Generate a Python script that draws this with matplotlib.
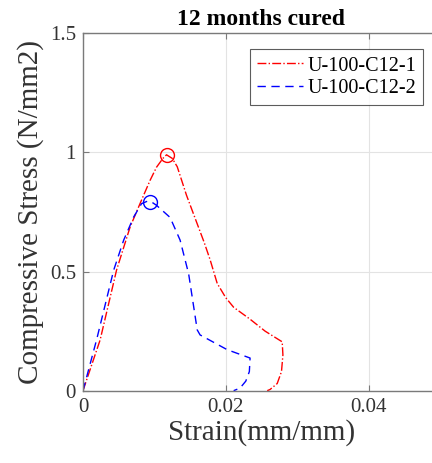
import matplotlib
matplotlib.use("Agg")
import matplotlib.pyplot as plt

# Stress-strain curves, 12 months cured specimens
strain_1 = [0.0, 0.0024, 0.0047, 0.0066, 0.0082, 0.0094, 0.0103, 0.0112, 0.0117,
            0.0125, 0.0132, 0.0145, 0.0155, 0.0170, 0.0178, 0.0188, 0.0200, 0.0211,
            0.0234, 0.0255, 0.0279, 0.0280, 0.0278, 0.0272, 0.0262, 0.0258]
stress_1 = [0.0, 0.213, 0.506, 0.687, 0.80, 0.883, 0.938, 0.975, 0.99,
            0.975, 0.94, 0.82, 0.74, 0.62, 0.55, 0.45, 0.39, 0.35,
            0.30, 0.25, 0.205, 0.15, 0.08, 0.03, 0.005, 0.0]

strain_2 = [0.0, 0.0019, 0.0043, 0.0057, 0.0071, 0.0082, 0.0090, 0.0096, 0.0103,
            0.0122, 0.0136, 0.0148, 0.0160, 0.0164, 0.0202, 0.0234, 0.0233, 0.0228,
            0.0220, 0.0211]
stress_2 = [0.0, 0.213, 0.506, 0.632, 0.729, 0.785, 0.795, 0.792, 0.778,
            0.727, 0.632, 0.49, 0.255, 0.234, 0.172, 0.137, 0.08, 0.04,
            0.011, 0.0]

peak_1 = (0.0117, 0.99)
peak_2 = (0.0094, 0.79)

labels = ["U-100-C12-1", "U-100-C12-2"]
x_ticks = [0, 0.02, 0.04]
x_tick_labels = ["0", "0.02", "0.04"]
y_ticks = [0, 0.5, 1, 1.5]
y_tick_labels = ["0", "0.5", "1", "1.5"]

plt.rcParams["font.family"] = ["Liberation Serif", "DejaVu Serif"]

fig = plt.figure(figsize=(4.32, 4.63), dpi=100)
ax = fig.add_axes([0.1921, 0.1562, 0.8264, 0.7719])

ax.plot(strain_1, stress_1, color="red", linestyle="-.", linewidth=1.0, label=labels[0])
ax.plot(strain_2, stress_2, color="blue", linestyle=(0, (6, 4)), linewidth=1.0, label=labels[1])
ax.plot(*peak_1, marker="o", markersize=10, markerfacecolor="none",
        markeredgecolor="red", markeredgewidth=1.0, linestyle="none")
ax.plot(*peak_2, marker="o", markersize=10, markerfacecolor="none",
        markeredgecolor="blue", markeredgewidth=1.0, linestyle="none")

ax.set_xlim(0, 0.05)
ax.set_ylim(0, 1.5)
ax.set_xticks(x_ticks)
ax.set_xticklabels(x_tick_labels)
ax.set_yticks(y_ticks)
ax.set_yticklabels(y_tick_labels)

ax.grid(True, color="#e3e3e3", linewidth=0.8)
ax.set_axisbelow(True)
for sp in ax.spines.values():
    sp.set_color("#7a7a7a")
    sp.set_linewidth(1.0)
ax.tick_params(direction="in", length=4, width=0.8, color="#7a7a7a",
               labelsize=15, labelcolor="#333333", top=True, right=True, pad=5)

ax.set_xlabel("Strain(mm/mm)", fontsize=21, color="#333333", labelpad=2)
ax.set_ylabel("Compressive Stress (N/mm2)", fontsize=21, color="#333333", labelpad=4)
ax.set_title("12 months cured", fontsize=17, fontweight="bold", pad=6)

leg = ax.legend(loc="upper left", bbox_to_anchor=(0.468, 0.955), fontsize=14.5,
                frameon=True, fancybox=False, handlelength=2.3, handletextpad=0.2,
                borderpad=0.35, labelspacing=0.15, borderaxespad=0)
leg.get_frame().set_edgecolor("#333333")
leg.get_frame().set_linewidth(0.8)

fig.savefig("out.png", dpi=100)
